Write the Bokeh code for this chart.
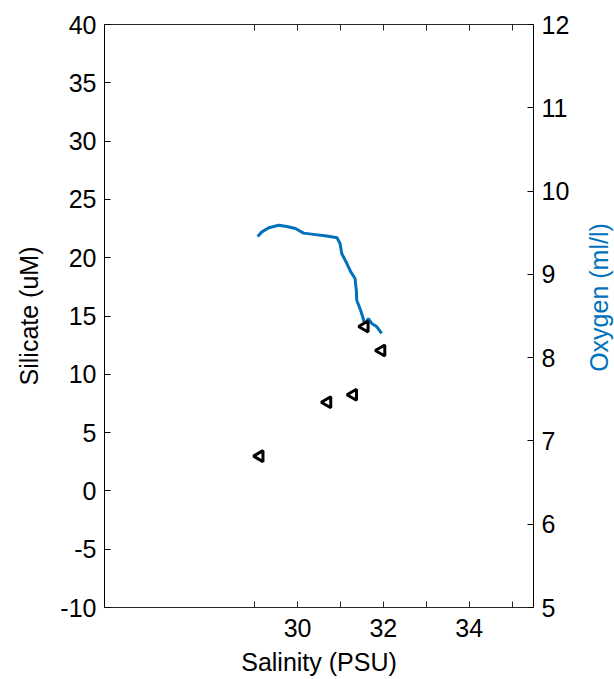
import math
from bokeh.plotting import figure
from bokeh.layouts import row
from bokeh.models import Range1d, LinearAxis, FixedTicker
from bokeh.core.properties import value
from bokeh.embed import file_html
from bokeh.resources import INLINE

# Bottle samples: salinity vs silicate
sample_salinity = [29.12, 30.70, 31.30, 31.57, 31.96]
sample_silicate = [2.98, 7.60, 8.24, 14.10, 12.04]

# CTD profile: salinity vs dissolved oxygen
ctd_salinity = [29.07, 29.17, 29.33, 29.56, 29.75, 29.95, 30.14, 30.37, 30.68,
                30.92, 30.99, 31.03, 31.15, 31.24, 31.34, 31.37, 31.38, 31.47,
                31.53, 31.57, 31.65, 31.73, 31.85, 31.96]
ctd_oxygen = [9.455, 9.51, 9.56, 9.59, 9.575, 9.55, 9.495, 9.48, 9.46,
              9.44, 9.37, 9.25, 9.13, 9.03, 8.95, 8.81, 8.69, 8.57,
              8.47, 8.39, 8.47, 8.41, 8.37, 8.29]

x_major = [30, 32, 34]
x_minor = [29, 31, 33, 35]
left_ticks = [-10, -5, 0, 5, 10, 15, 20, 25, 30, 35, 40]
right_ticks = [5, 6, 7, 8, 9, 10, 11, 12]

FONT = "Liberation Sans"
FS = "25px"
BLUE = "#0072BD"
AXIS_GRAY = "#262626"

MAIN_W, TITLE_W, H = 580, 34, 679

p = figure(width=MAIN_W, height=H, output_backend="svg", toolbar_location=None,
           x_range=Range1d(25.5, 35.5), y_range=Range1d(-10, 40),
           min_border_left=104, min_border_right=47,
           min_border_top=24, min_border_bottom=72,
           x_axis_location=None, y_axis_location=None)
p.outline_line_color = None
p.grid.visible = False
p.background_fill_color = "white"
p.border_fill_color = "white"
p.extra_y_ranges = {"oxy": Range1d(5, 12)}


def style(ax, color="black"):
    ax.axis_line_color = color
    ax.axis_line_width = 1
    ax.major_tick_line_color = color
    ax.major_tick_in = 6
    ax.major_tick_out = 0
    ax.minor_tick_line_color = color
    ax.minor_tick_in = 6
    ax.minor_tick_out = 0
    ax.major_label_text_font = FONT
    ax.major_label_text_font_size = FS
    ax.major_label_text_color = "black"
    ax.axis_label_text_font = FONT
    ax.axis_label_text_font_size = FS
    ax.axis_label_text_font_style = "normal"
    ax.axis_label_text_color = "black"
    ax.major_label_standoff = 8


# bottom salinity axis
xb = LinearAxis(ticker=FixedTicker(ticks=x_major, minor_ticks=x_minor),
                axis_label="Salinity (PSU)")
style(xb, AXIS_GRAY)
xb.major_label_standoff = 11
xb.axis_label_standoff = 8
p.add_layout(xb, "below")

# top frame edge with unlabelled ticks
xt = LinearAxis(ticker=FixedTicker(ticks=[], minor_ticks=x_major + x_minor))
style(xt, AXIS_GRAY)
xt.major_label_standoff = 0
p.add_layout(xt, "above")

# left silicate axis
yl = LinearAxis(ticker=FixedTicker(ticks=left_ticks), axis_label="Silicate (uM)")
style(yl)
yl.major_label_overrides = {t: str(t) for t in left_ticks if t < 0}
yl.axis_label_standoff = 14
p.add_layout(yl, "left")

# right oxygen axis; its title sits in a narrow strip to the right
yr = LinearAxis(y_range_name="oxy", ticker=FixedTicker(ticks=right_ticks))
style(yr)
p.add_layout(yr, "right")

p.line(ctd_salinity, ctd_oxygen, y_range_name="oxy",
       line_color=BLUE, line_width=3)
p.scatter(sample_salinity, sample_silicate, marker="triangle", angle=math.pi / 2,
          size=11, line_color="black", line_width=3, fill_color="white")

# strip holding the rotated oxygen axis title (pixel coordinates)
t = figure(width=TITLE_W, height=H, output_backend="svg", toolbar_location=None,
           x_range=Range1d(0, TITLE_W), y_range=Range1d(0, H),
           min_border=0, x_axis_location=None, y_axis_location=None)
t.outline_line_color = None
t.grid.visible = False
t.border_fill_color = "white"
t.text(x=[18], y=[H - 318], text=["Oxygen (ml/l)"], angle=math.pi / 2,
       text_align="center", text_baseline="middle",
       text_font=value(FONT), text_font_size=value(FS), text_color=BLUE)

layout = row(p, t, spacing=0)
open("out.html", "w").write(file_html(layout, INLINE))
